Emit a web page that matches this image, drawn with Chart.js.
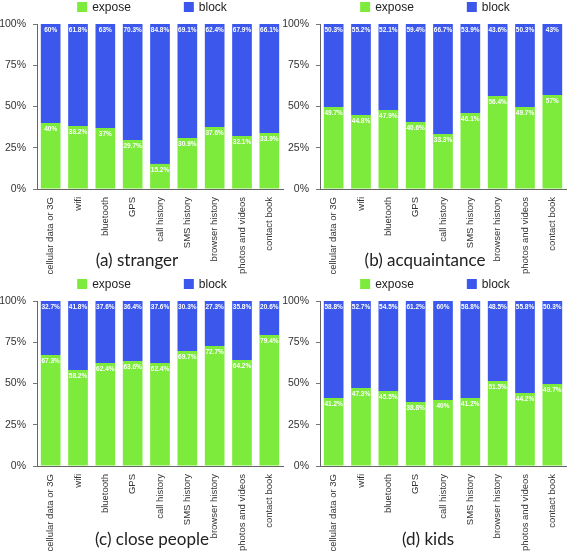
<!DOCTYPE html>
<html>
<head>
<meta charset="utf-8">
<script src="https://cdn.jsdelivr.net/npm/chart.js@4"></script>
<style>
  html, body { margin: 0; padding: 0; background: #fff; }
  #wrap { position: relative; width: 567px; height: 553px; overflow: hidden; }
  #wrap canvas { position: absolute; }
  .cap { position: absolute; font-family: Lato, sans-serif; font-size: 17px; line-height: 17px;
         color: #222; white-space: nowrap; transform: translateX(-50%); }
</style>
</head>
<body>
<div id="wrap">
  <canvas id="c0" width="285" height="290" style="left:0;top:0"></canvas>
  <canvas id="c1" width="285" height="290" style="left:283px;top:0"></canvas>
  <canvas id="c2" width="285" height="276" style="left:0;top:277px"></canvas>
  <canvas id="c3" width="285" height="276" style="left:283px;top:277px"></canvas>
  <div class="cap" style="left:137px;top:251px">(a) stranger</div>
  <div class="cap" style="left:425px;top:251px">(b) acquaintance</div>
  <div class="cap" style="left:152px;top:530px">(c) close people</div>
  <div class="cap" style="left:428px;top:530px">(d) kids</div>
</div>
<script>
const categories = ['cellular data or 3G', 'wifi', 'bluetooth', 'GPS', 'call history',
  'SMS history', 'browser history', 'photos and videos', 'contact book'];

const strangerExpose = [40, 38.2, 37, 29.7, 15.2, 30.9, 37.6, 32.1, 33.9];
const strangerBlock = [60, 61.8, 63, 70.3, 84.8, 69.1, 62.4, 67.9, 66.1];
const acquaintanceExpose = [49.7, 44.8, 47.9, 40.6, 33.3, 46.1, 56.4, 49.7, 57];
const acquaintanceBlock = [50.3, 55.2, 52.1, 59.4, 66.7, 53.9, 43.6, 50.3, 43];
const closeExpose = [67.3, 58.2, 62.4, 63.6, 62.4, 69.7, 72.7, 64.2, 79.4];
const closeBlock = [32.7, 41.8, 37.6, 36.4, 37.6, 30.3, 27.3, 35.8, 20.6];
const kidsExpose = [41.2, 47.3, 45.5, 38.8, 40, 41.2, 51.5, 44.2, 49.7];
const kidsBlock = [58.8, 52.7, 54.5, 61.2, 60, 58.8, 48.5, 55.8, 50.3];

const yTicks = [0, 25, 50, 75, 100];

const GREEN = '#7deb3b';
const BLUE = '#3c58ec';
const FONT = '"Liberation Sans", Arial, sans-serif';

Chart.defaults.font.family = FONT;

// white value labels at the top of each segment
const segmentLabels = {
  id: 'segmentLabels',
  afterDatasetsDraw(chart) {
    const ctx = chart.ctx;
    ctx.save();
    ctx.font = 'bold 6.5px ' + FONT;
    ctx.fillStyle = '#fff';
    ctx.textAlign = 'center';
    ctx.textBaseline = 'middle';
    chart.data.datasets.forEach((ds, i) => {
      chart.getDatasetMeta(i).data.forEach((bar, j) => {
        const top = Math.min(bar.y, bar.base);
        ctx.fillText(ds.data[j] + '%', bar.x, top + 6);
      });
    });
    ctx.restore();
  }
};

// small square legend above the plot
const topLegend = {
  id: 'topLegend',
  afterDraw(chart) {
    const ctx = chart.ctx;
    const a = chart.chartArea;
    ctx.save();
    ctx.font = '12px ' + FONT;
    ctx.textBaseline = 'middle';
    const items = chart.data.datasets.map(ds => ({
      text: ds.label, color: ds.backgroundColor, w: 15 + ctx.measureText(ds.label).width
    }));
    const gap = 53;
    const total = items.reduce((s, it) => s + it.w, 0) + gap * (items.length - 1);
    let x = (a.left + a.right) / 2 - 8 - total / 2;
    const y = a.top - 17;
    items.forEach(it => {
      ctx.fillStyle = it.color;
      ctx.fillRect(x, y - 5, 10, 10);
      ctx.fillStyle = '#222';
      ctx.fillText(it.text, x + 15, y + 0.5);
      x += it.w + gap;
    });
    ctx.restore();
  }
};

function makeChart(id, expose, block) {
  const canvas = document.getElementById(id);
  const h = canvas.height;
  return new Chart(canvas, {
    type: 'bar',
    data: {
      labels: categories,
      datasets: [
        { label: 'expose', data: expose, backgroundColor: GREEN },
        { label: 'block', data: block, backgroundColor: BLUE }
      ]
    },
    options: {
      responsive: false,
      animation: false,
      layout: { padding: { top: 24, right: 2, left: 0, bottom: 0 } },
      datasets: { bar: { barPercentage: 0.72, categoryPercentage: 1 } },
      plugins: { legend: { display: false }, tooltip: { enabled: false } },
      scales: {
        x: {
          stacked: true,
          grid: { display: false },
          border: { display: true, color: '#666', width: 1 },
          ticks: {
            autoSkip: false, minRotation: 90, maxRotation: 90, padding: 0,
            color: '#333', font: { size: 9.5 }
          },
          afterFit(s) { s.height = h - 189; s.paddingLeft = 0; s.paddingRight = 0; }
        },
        y: {
          stacked: true,
          min: 0, max: 100,
          afterBuildTicks(s) { s.ticks = yTicks.map(v => ({ value: v })); },
          grid: { drawOnChartArea: false, tickLength: 4, color: '#777' },
          border: { display: true, color: '#666', width: 1 },
          ticks: { padding: 7, color: '#333', font: { size: 10.5 }, callback: v => v + '%' },
          afterFit(s) { s.width = 37; }
        }
      }
    },
    plugins: [segmentLabels, topLegend]
  });
}

makeChart('c0', strangerExpose, strangerBlock);
makeChart('c1', acquaintanceExpose, acquaintanceBlock);
makeChart('c2', closeExpose, closeBlock);
makeChart('c3', kidsExpose, kidsBlock);
</script>
</body>
</html>
